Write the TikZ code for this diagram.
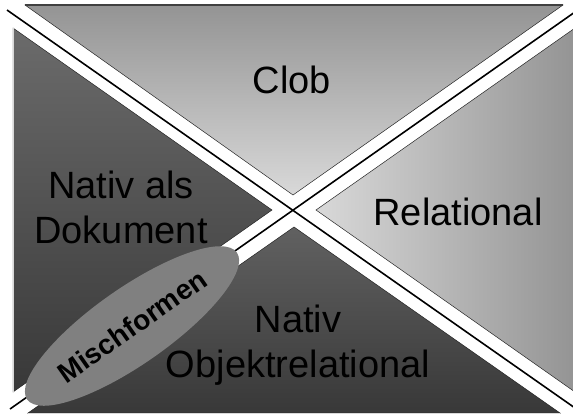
\documentclass[tikz,border=0pt]{standalone}
\usepackage{fontspec}
\setmainfont{Liberation Sans}
\usetikzlibrary{shapes.geometric}

\tikzset{
	feld/.style={draw=black!85,line width=.5pt},
	kreuz/.style={line width=1.6pt},
	beschriftung/.style={align=center,font=\fontsize{38}{45}\selectfont},
}

\begin{document}
\begin{tikzpicture}[x=1pt,y=-1pt]
	\clip (0,0) rectangle (573,418);
	% Clob
	\shade[feld,top color=black!42,bottom color=black!15]
		(25,5) -- (563,5) -- (293,195) -- cycle;
	\draw[black!75,line width=1.5pt] (25,5) -- (563,5);
	% Relational
	\shade[feld,left color=black!15,right color=black!42]
		(316,210) -- (575,28) -- (575,392) -- cycle;
	% Nativ als Dokument
	\shade[feld,top color=black!58,bottom color=black!78]
		(13,28) -- (272,210) -- (13,392) -- cycle;
	\draw[black!15] (13,28) -- (13,392);
	% Nativ Objektrelational
	\shade[feld,top color=black!62,bottom color=black!78]
		(294,227) -- (560,413) -- (28,413) -- cycle;
	\draw[black!15] (28,413) -- (560,413);

	% das Kreuz
	\coordinate (nw) at (7,10);
	\coordinate (se) at (575,408);
	\coordinate (sw) at (10,409);
	\coordinate (ne) at (575,12);
	\draw[kreuz] (nw) -- (se);
	\draw[kreuz] (sw) -- (ne);

	\node[beschriftung] (clob) at (292,80) {Clob};
	\node[beschriftung] (relational) at (458,212) {Relational};
	\node[beschriftung] (dokument) at (121,207) {Nativ als\\Dokument};
	\node[beschriftung] (objekt) at (298,345) {Nativ\\Objektrelational};

	\node[ellipse,fill=black!50,minimum width=256pt,minimum height=76pt,inner sep=0pt,rotate=35,
		font=\bfseries\fontsize{28}{32}\selectfont] (misch) at (132,326) {Mischformen};
\end{tikzpicture}
\end{document}
